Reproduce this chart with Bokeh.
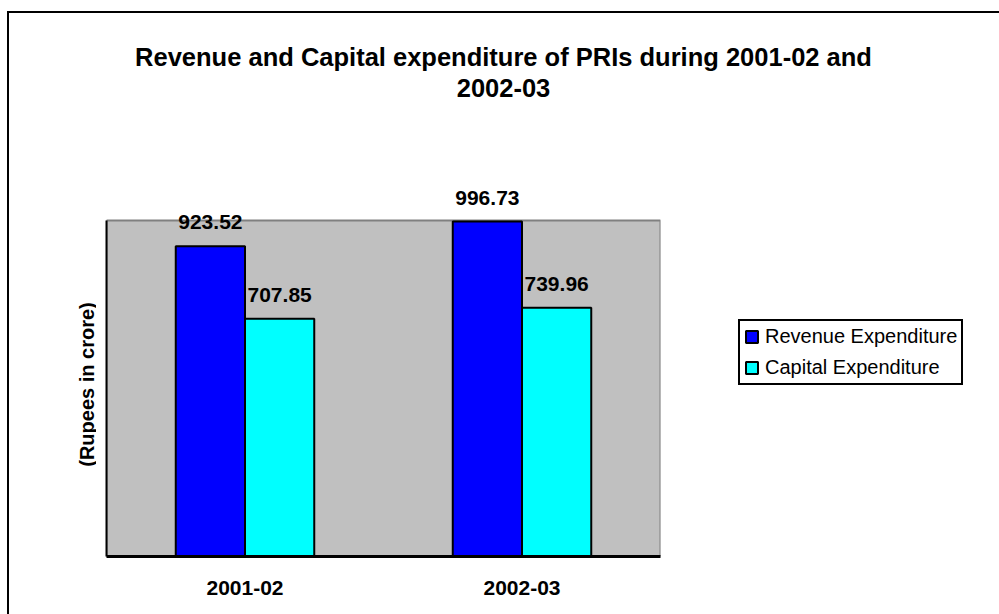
import math
from bokeh.plotting import figure
from bokeh.models import (ColumnDataSource, FactorRange, Range1d, Legend, LegendItem, Label,
                          FixedTicker, BoxAnnotation)
from bokeh.layouts import column, row
from bokeh.transform import dodge
from bokeh.core.properties import value
from bokeh.embed import file_html
from bokeh.resources import INLINE

# ---- data ----
years = ["2001-02", "2002-03"]
revenue = [923.52, 996.73]
capital = [707.85, 739.96]
series_names = ["Revenue Expenditure", "Capital Expenditure"]
title_lines = ["Revenue and Capital expenditure of PRIs during 2001-02 and", "2002-03"]
y_title = "(Rupees in crore)"
y_axis_max = 1000          # top of the grey plot area
y_view_max = 1250          # extra head-room above the plot area for the value labels

FONT = "Liberation Sans"
REV_COLOR = "#0000FF"
CAP_COLOR = "#00FFFF"


def blank_fig(w, h):
    f = figure(width=w, height=h, x_range=Range1d(0, 1), y_range=Range1d(0, 1),
               output_backend="svg", toolbar_location=None,
               x_axis_location=None, y_axis_location=None,
               min_border=0, min_border_left=0, min_border_right=0,
               min_border_top=0, min_border_bottom=0)
    f.outline_line_color = None
    f.xgrid.grid_line_color = None
    f.ygrid.grid_line_color = None
    f.background_fill_color = "white"
    f.border_fill_color = "white"
    return f


# ---------------- title strip ----------------
tf = blank_fig(990, 100)
for txt, yb in zip(title_lines, (57, 26)):
    tf.add_layout(Label(x=494, y=yb, x_units="screen", y_units="screen", text=txt,
                        text_align="center", text_baseline="alphabetic",
                        text_font=FONT, text_font_style="bold", text_font_size="25.5px",
                        text_color="black"))

# ---------------- y-axis title strip ----------------
yf = blank_fig(87, 501)
yf.add_layout(Label(x=77, y=172, x_units="screen", y_units="screen", text=y_title,
                    angle=math.pi / 2, text_align="center", text_baseline="middle",
                    text_font=FONT, text_font_style="bold", text_font_size="20px",
                    text_color="black"))

# ---------------- main chart ----------------
src = ColumnDataSource(dict(
    year=years,
    revenue=revenue,
    capital=capital,
    rev_lbl=[f"{v:.2f}" for v in revenue],
    cap_lbl=[f"{v:.2f}" for v in capital],
))

p = figure(width=566, height=501, x_range=FactorRange(*years, range_padding=0),
           y_range=Range1d(0, y_view_max), output_backend="svg", toolbar_location=None,
           min_border_left=10, min_border_right=2, min_border_top=23, min_border_bottom=58)

p.background_fill_color = "white"
p.border_fill_color = "white"
p.outline_line_color = None
p.xgrid.grid_line_color = None
p.ygrid.grid_line_color = None

# grey plot area (0 .. axis max)
p.add_layout(BoxAnnotation(bottom=0, top=y_axis_max, fill_color="#C0C0C0", fill_alpha=1,
                           line_color="#808080", line_width=2, line_alpha=1, level="underlay"))

bw = 0.25
r1 = p.vbar(x=dodge("year", -bw / 2, range=p.x_range), top="revenue", width=bw, source=src,
            fill_color=REV_COLOR, line_color="black", line_width=2)
r2 = p.vbar(x=dodge("year", bw / 2, range=p.x_range), top="capital", width=bw, source=src,
            fill_color=CAP_COLOR, line_color="black", line_width=2)

for col, lbl, off in (("revenue", "rev_lbl", -bw / 2), ("capital", "cap_lbl", bw / 2)):
    p.text(x=dodge("year", off, range=p.x_range), y=col, text=lbl, source=src,
           text_align="center", text_baseline="alphabetic", y_offset=-24,
           text_font=value(FONT), text_font_style="bold", text_font_size="21px",
           text_color="black")

p.xaxis.axis_line_color = "black"
p.xaxis.axis_line_width = 3
p.xaxis.major_tick_line_color = None
p.xaxis.minor_tick_line_color = None
p.xaxis.major_tick_out = 0
p.xaxis.major_tick_in = 0
p.xaxis.major_label_text_font = FONT
p.xaxis.major_label_text_font_style = "bold"
p.xaxis.major_label_text_font_size = "21px"
p.xaxis.major_label_text_color = "black"
p.xaxis.major_label_standoff = 24

p.yaxis.bounds = (0, y_axis_max)
p.yaxis.ticker = FixedTicker(ticks=[])
p.yaxis.axis_line_color = "black"
p.yaxis.axis_line_width = 2
p.yaxis.major_tick_line_color = None
p.yaxis.minor_tick_line_color = None
p.yaxis.major_tick_out = 0
p.yaxis.major_tick_in = 0
p.yaxis.major_label_standoff = 0

# ---------------- legend area ----------------
lf = blank_fig(337, 501)
nan = float("nan")
k1 = lf.vbar(x=[nan], top=[nan], width=0.1, fill_color=REV_COLOR, line_color="black", line_width=2)
k2 = lf.vbar(x=[nan], top=[nan], width=0.1, fill_color=CAP_COLOR, line_color="black", line_width=2)
legend = Legend(items=[LegendItem(label=series_names[0], renderers=[k1]),
                       LegendItem(label=series_names[1], renderers=[k2])],
                location=(76, 171), margin=0, padding=4, spacing=8,
                glyph_width=15, glyph_height=15, label_height=23, label_standoff=6,
                label_text_font=FONT, label_text_font_size="20px", label_text_color="black",
                border_line_color="black", border_line_width=2, border_line_alpha=1,
                background_fill_color="white", background_fill_alpha=1)
lf.add_layout(legend)

layout = column(tf, row(yf, p, lf, spacing=0), spacing=0,
                styles={"border-left": "2px solid black", "border-top": "2px solid black",
                        "margin-left": "7px", "margin-top": "11px"})

open("out.html", "w").write(file_html(layout, INLINE))
